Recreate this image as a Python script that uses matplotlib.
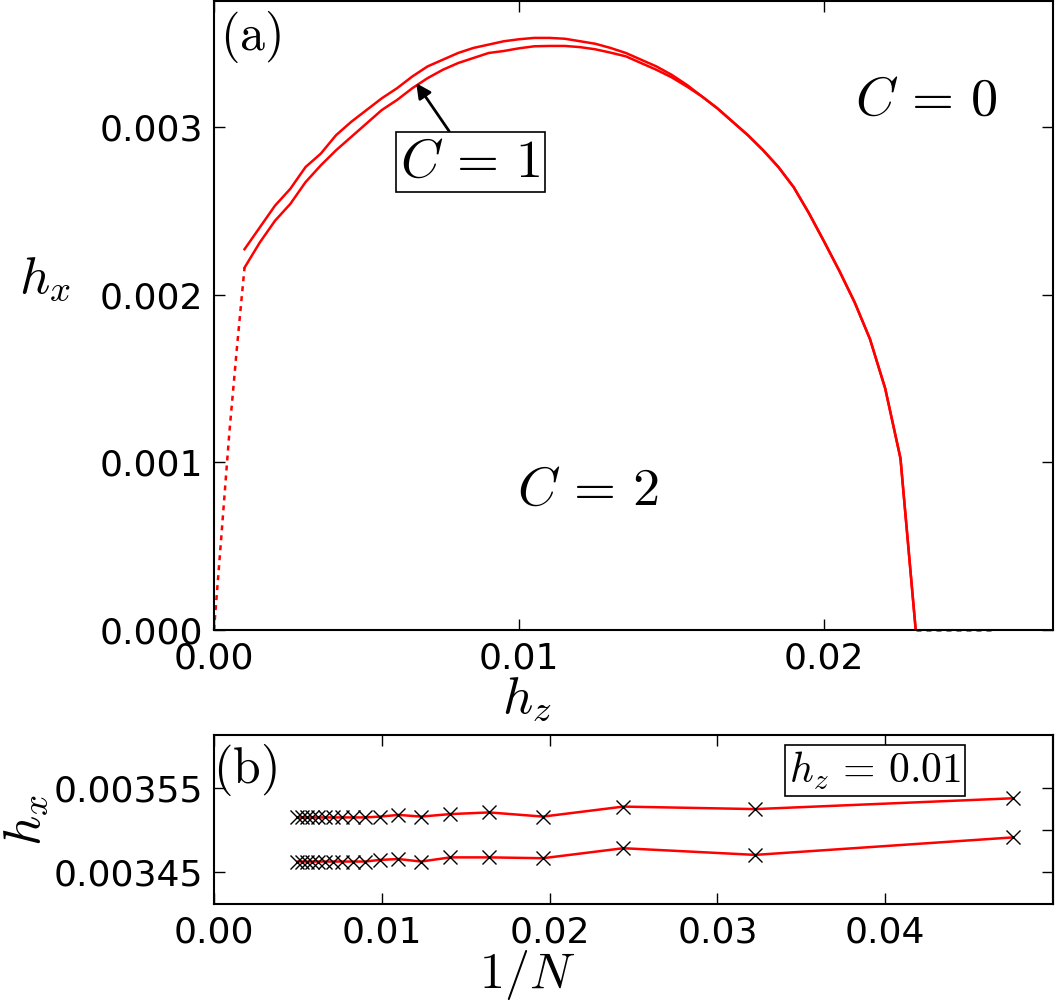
import matplotlib
matplotlib.use("Agg")
import numpy as np
import matplotlib.pyplot as plt

plt.rcParams["mathtext.fontset"] = "cm"
plt.rcParams["font.family"] = "DejaVu Sans"
plt.rcParams["xtick.direction"] = "in"
plt.rcParams["ytick.direction"] = "in"
plt.rcParams["axes.linewidth"] = 1.5

# panel (a): phase boundaries, hx vs hz
hz_upper = [0.0010, 0.0015, 0.0020, 0.0025, 0.0030, 0.0035, 0.0040, 0.0045,
            0.0050, 0.0055, 0.0060, 0.0065, 0.0070, 0.0075, 0.0080, 0.0085,
            0.0090, 0.0095, 0.0100, 0.0105, 0.0110, 0.0115, 0.0120, 0.0125,
            0.0130, 0.0135, 0.0140, 0.0145, 0.0150, 0.0155, 0.0160, 0.0165,
            0.0170, 0.0175, 0.0180, 0.0185, 0.0190, 0.0195, 0.0200, 0.0205,
            0.0210, 0.0215, 0.0220, 0.0225, 0.0230]
hx_upper = [0.00227, 0.00240, 0.00253, 0.00263, 0.00276, 0.00284, 0.00295, 0.00303,
            0.00310, 0.00317, 0.00323, 0.00330, 0.00336, 0.00340, 0.00344, 0.00347,
            0.00349, 0.00351, 0.003522, 0.003530, 0.003530, 0.003525, 0.003510, 0.003495,
            0.003470, 0.003440, 0.003400, 0.003360, 0.003310, 0.003250, 0.003180, 0.003110,
            0.003030, 0.002950, 0.002860, 0.002760, 0.002640, 0.002485, 0.002315, 0.002140,
            0.001953, 0.001735, 0.001440, 0.001024, 0.0]
hz_lower = hz_upper
hx_lower = [0.00216, 0.00231, 0.00244, 0.00254, 0.00267, 0.00277, 0.00286, 0.00294,
            0.00302, 0.00310, 0.00316, 0.00323, 0.00329, 0.00334, 0.00338, 0.00341,
            0.00344, 0.003452, 0.003468, 0.003480, 0.003482, 0.003482, 0.003475, 0.003462,
            0.003442, 0.003420, 0.003380, 0.003340, 0.003295, 0.003240, 0.003180, 0.003110,
            0.003030, 0.002950, 0.002860, 0.002760, 0.002640, 0.002485, 0.002315, 0.002140,
            0.001953, 0.001735, 0.001440, 0.001024, 0.0]
# extrapolated (dotted) parts
hz_dot_left = [0.0, 0.00025, 0.0005, 0.00075, 0.001]
hx_dot_left = [0.0, 0.00058, 0.00117, 0.00168, 0.00216]
hz_dot_right = [0.023, 0.0255]
hx_dot_right = [0.0, 0.0]

# panel (b): finite size scaling at hz = 0.01
N_sizes = [21, 31, 41, 51, 61, 71, 81, 91, 101, 111, 121, 131, 141, 151,
           161, 171, 181, 191, 201]
hx_b_upper = [0.003538, 0.003525, 0.003528, 0.003516, 0.003521, 0.003519, 0.003516,
              0.003518, 0.003516, 0.003515, 0.003515, 0.003515, 0.003515, 0.003515,
              0.003515, 0.003515, 0.003515, 0.003515, 0.003515]
hx_b_lower = [0.003491, 0.003470, 0.003478, 0.003466, 0.003467, 0.003467, 0.003462,
              0.003465, 0.003464, 0.003462, 0.003462, 0.003462, 0.003462, 0.003462,
              0.003462, 0.003462, 0.003462, 0.003462, 0.003462]
inv_N = 1.0 / np.array(N_sizes)

W, H = 1056, 1007
fig = plt.figure(figsize=(W / 100, H / 100), dpi=100)
ax_a = fig.add_axes([214 / W, 1 - 630 / H, 839 / W, 629 / H])
ax_b = fig.add_axes([214 / W, 1 - 904 / H, 839 / W, 169 / H])

red_kw = dict(color="red", lw=1.8)
dot_kw = dict(color="red", lw=1.8, linestyle=(0, (2, 2)), clip_on=False)

ax_a.plot(hz_upper, hx_upper, **red_kw)
ax_a.plot(hz_lower, hx_lower, **red_kw)
ax_a.plot(hz_dot_left, hx_dot_left, **dot_kw)
ax_a.plot(hz_dot_right, hx_dot_right, **dot_kw)
ax_a.set_xlim(0, 0.0275)
ax_a.set_ylim(0, 0.00375)
ax_a.set_xticks([0.0, 0.01, 0.02])
ax_a.set_xticklabels(["0.00", "0.01", "0.02"])
ax_a.set_yticks([0.0, 0.001, 0.002, 0.003])
ax_a.set_yticklabels(["0.000", "0.001", "0.002", "0.003"])
ax_a.tick_params(labelsize=26, length=8, width=1, top=True, right=True, pad=8)

ax_a.text(0.044, 0.943, r"$\mathrm{(a)}$", transform=ax_a.transAxes,
          fontsize=36, ha="center", va="center")
ax_a.text(0.02334, 0.00316, r"$C\,=\,0$", fontsize=39, ha="center", va="center")
ax_a.text(0.01225, 0.000835, r"$C\,=\,2$", fontsize=39, ha="center", va="center")
ax_a.annotate(r"$C\,=\,1$", xy=(0.00663, 0.00326), xytext=(0.0084, 0.00279),
              fontsize=39, ha="center", va="center",
              bbox=dict(boxstyle="square,pad=0.08", fc="white", ec="black", lw=1.2),
              arrowprops=dict(arrowstyle="-|>", color="black", lw=2,
                              mutation_scale=22, shrinkA=0, shrinkB=0))

fig.text(45 / W, 1 - 278 / H, r"$h_x$", fontsize=38, ha="center", va="center")
fig.text(527 / W, 1 - 698 / H, r"$h_z$", fontsize=38, ha="center", va="center")

ax_b.plot(inv_N, hx_b_upper, color="red", lw=1.8, marker="x", ms=10,
          mec="black", mew=1)
ax_b.plot(inv_N, hx_b_lower, color="red", lw=1.8, marker="x", ms=10,
          mec="black", mew=1)
ax_b.set_xlim(0, 0.05)
ax_b.set_ylim(0.003411, 0.003614)
ax_b.set_xticks([0.0, 0.01, 0.02, 0.03, 0.04])
ax_b.set_xticklabels(["0.00", "0.01", "0.02", "0.03", "0.04"])
ax_b.set_yticks([0.00345, 0.00355])
ax_b.set_yticklabels(["0.00345", "0.00355"])
ax_b.tick_params(labelsize=26, length=8, width=1, top=True, right=False, pad=8)
sec = ax_b.secondary_yaxis("right")
sec.set_yticks([0.00345, 0.0035, 0.00355])
sec.set_yticklabels([])
sec.tick_params(direction="in", length=8, width=1)

ax_b.text(0.037, 0.79, r"$\mathrm{(b)}$", transform=ax_b.transAxes,
          fontsize=36, ha="center", va="center")
ax_b.text(0.788, 0.79, r"$h_z\,=\,0.01$", transform=ax_b.transAxes,
          fontsize=30, ha="center", va="center",
          bbox=dict(boxstyle="square,pad=0.1", fc="white", ec="black", lw=1.2))

fig.text(25 / W, 1 - 820 / H, r"$h_x$", fontsize=38, ha="center", va="center",
         rotation=90)
fig.text(527 / W, 1 - 975 / H, r"$1/N$", fontsize=36, ha="center", va="center")

fig.savefig("out.png", dpi=100)
